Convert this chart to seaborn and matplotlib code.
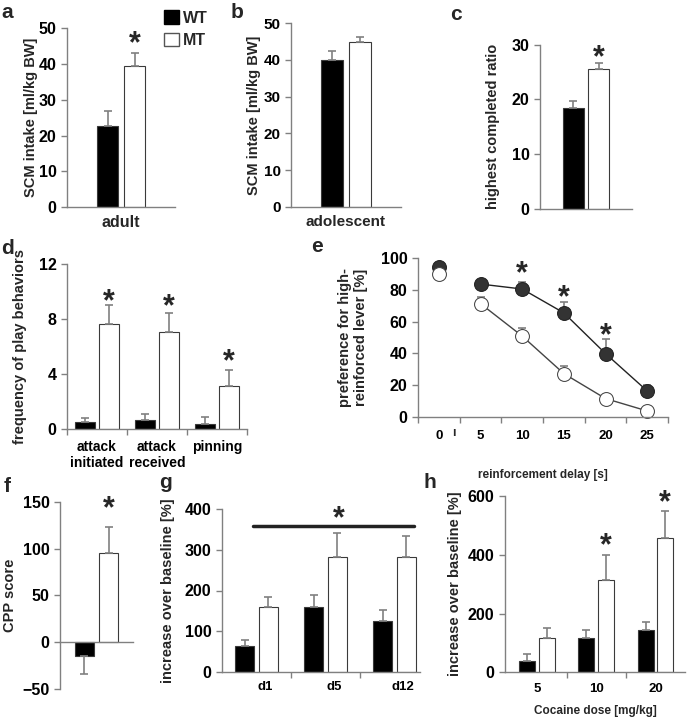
import matplotlib
matplotlib.use('Agg')
import numpy as np
import pandas as pd
import matplotlib.pyplot as plt
import seaborn as sns
from matplotlib.patches import Patch

# a / b / c: single group bars
adult_wt, adult_mt = [22.8], [39.5]
adult_wt_err, adult_mt_err = [4.2], [3.6]
adol_wt, adol_mt = [40.1], [44.9]
adol_wt_err, adol_mt_err = [2.3], [1.4]
ratio_wt, ratio_mt = [18.4], [25.5]
ratio_wt_err, ratio_mt_err = [1.3], [1.2]

# d: play behaviors
play_labels = ['attack\ninitiated', 'attack\nreceived', 'pinning']
play_wt = [0.53, 0.66, 0.36]
play_wt_err = [0.30, 0.40, 0.50]
play_mt = [7.63, 7.09, 3.13]
play_mt_err = [1.37, 1.34, 1.17]

# e: delay discounting
delay = [0, 5, 10, 15, 20, 25]
delay_wt = [94.3, 83.6, 80.5, 65.5, 39.9, 16.4]
delay_wt_err = [0.0, 0.0, 4.4, 6.8, 9.0, 4.0]
delay_mt = [90.2, 71.3, 50.9, 27.3, 11.6, 3.8]
delay_mt_err = [0.0, 4.0, 5.0, 5.0, 0.0, 0.0]

# f: CPP
cpp_wt, cpp_mt = [-14.5], [95.0]
cpp_wt_err, cpp_mt_err = [20.0], [28.0]

# g: sensitization days
days = ['d1', 'd5', 'd12']
days_wt = [63, 160, 126]
days_wt_err = [14, 29, 25]
days_mt = [158.6, 281.7, 281.7]
days_mt_err = [25, 60, 53]

# h: cocaine dose
dose = ['5', '10', '20']
dose_wt = [37.4, 117.8, 144]
dose_wt_err = [24, 25, 26]
dose_mt = [116.7, 314, 456]
dose_mt_err = [34, 86, 94]

sns.set_style('ticks')
plt.rcParams['font.family'] = ['Liberation Sans', 'DejaVu Sans']
plt.rcParams['font.weight'] = 'bold'
plt.rcParams['axes.labelweight'] = 'bold'
plt.rcParams['axes.edgecolor'] = '#808080'
plt.rcParams['xtick.color'] = '#808080'
plt.rcParams['ytick.color'] = '#808080'
plt.rcParams['xtick.labelcolor'] = 'black'
plt.rcParams['ytick.labelcolor'] = 'black'

W, H = 687, 719
fig = plt.figure(figsize=(W / 100, H / 100), dpi=100)


def make_ax(l, r, t, b):
    return fig.add_axes([l / W, 1 - b / H, (r - l) / W, (b - t) / H])


def style(ax, ylabel, dist, fs=10.5, tick_fs=11.5):
    sns.despine(ax=ax)
    for s in ['left', 'bottom']:
        ax.spines[s].set_linewidth(1.0)
    ax.tick_params(axis='y', direction='out', length=4, width=1, labelsize=tick_fs)
    ax.set_ylabel(ylabel, fontsize=fs)
    w = ax.get_position().width * W
    ax.yaxis.set_label_coords(-dist / w, 0.5)


def draw_bars(ax, groups, wt, mt, wt_err, mt_err, width, gap):
    n = len(groups)
    df = pd.DataFrame({'group': list(groups) * 2,
                       'genotype': ['WT'] * n + ['MT'] * n,
                       'value': list(wt) + list(mt)})
    sns.barplot(data=df, x='group', y='value', hue='genotype', order=groups,
                hue_order=['WT', 'MT'], palette={'WT': 'black', 'MT': 'white'},
                width=width, gap=gap, edgecolor='#3a3a3a', linewidth=0.8,
                errorbar=None, legend=False, ax=ax)
    mt_x = []
    for k, (cont, errs) in enumerate(zip(ax.containers, [wt_err, mt_err])):
        for bar, e in zip(cont, errs):
            x = bar.get_x() + bar.get_width() / 2
            top = bar.get_y() + bar.get_height()
            yerr = [[0], [e]] if top >= 0 else [[e], [0]]
            ax.errorbar(x, top, yerr=yerr, fmt='none', ecolor='#808080',
                        elinewidth=1.2, capsize=3, capthick=1.2)
            if k == 1:
                mt_x.append(x)
    ax.set_xlabel('')
    return mt_x


def star(ax, x, y):
    ax.annotate('*', (x, y), xytext=(0, -4.5), textcoords='offset points',
                ha='center', va='center', fontsize=22, fontweight='bold',
                annotation_clip=False)


# ---- a
ax = make_ax(67, 175, 28.3, 207)
mx = draw_bars(ax, ['adult'], adult_wt, adult_mt, adult_wt_err, adult_mt_err, 0.5, 0.2)
ax.set_xlim(-0.5, 0.5)
ax.set_ylim(0, 50)
ax.set_yticks([0, 10, 20, 30, 40, 50])
ax.set_xticks([])
ax.set_xlabel('adult', fontsize=11.5, labelpad=6)
style(ax, 'SCM intake [ml/kg BW]', 29)
star(ax, mx[0], 47.3)

# ---- b
ax = make_ax(291, 401, 23.3, 206.7)
draw_bars(ax, ['adolescent'], adol_wt, adol_mt, adol_wt_err, adol_mt_err, 0.5, 0.2)
ax.set_xlim(-0.5, 0.5)
ax.set_ylim(0, 50)
ax.set_yticks([0, 10, 20, 30, 40, 50])
ax.set_xticks([])
ax.set_xlabel('adolescent', fontsize=11, labelpad=6)
style(ax, 'SCM intake [ml/kg BW]', 30, tick_fs=11)

# ---- c
ax = make_ax(540, 632, 44.7, 208.7)
mx = draw_bars(ax, ['ratio'], ratio_wt, ratio_mt, ratio_wt_err, ratio_mt_err, 0.56, 0.18)
ax.set_xlim(-0.5, 0.5)
ax.set_ylim(0, 30)
ax.set_yticks([0, 10, 20, 30])
ax.set_xticks([])
style(ax, 'highest completed ratio', 40)
star(ax, mx[0], 28.6)

# ---- d
ax = make_ax(67, 247, 264.3, 429)
mx = draw_bars(ax, play_labels, play_wt, play_mt, play_wt_err, play_mt_err, 0.8, 0.17)
ax.set_xlim(-0.5, 2.5)
ax.set_ylim(0, 12)
ax.set_yticks([0, 4, 8, 12])
ax.set_xticks(range(3), play_labels)
ax.set_xticks([-0.5, 0.5, 1.5, 2.5], minor=True)
ax.tick_params(axis='x', which='major', length=0, labelsize=10, pad=8)
ax.tick_params(axis='x', which='minor', length=4, width=1, direction='out')
style(ax, 'frequency of play behaviors', 40)
for x, y in zip(mx, [9.7, 9.33, 5.3]):
    star(ax, x, y)

# ---- e
ax = make_ax(418, 668, 258, 417)
pos = np.arange(len(delay))
sns.lineplot(x=pos[1:], y=delay_wt[1:], color='#222222', lw=1, marker='o', ms=10,
             markerfacecolor='#333333', markeredgecolor='#222222', ax=ax, clip_on=False)
sns.lineplot(x=pos[:1], y=delay_wt[:1], color='#222222', lw=1, marker='o', ms=10,
             markerfacecolor='#333333', markeredgecolor='#222222', ax=ax, clip_on=False)
ax.errorbar(pos, delay_wt, yerr=[np.zeros(6), delay_wt_err], fmt='none',
            ecolor='#808080', elinewidth=1.2, capsize=3, capthick=1.2, zorder=1)
ax.errorbar(pos, delay_mt, yerr=[np.zeros(6), delay_mt_err], fmt='none',
            ecolor='#808080', elinewidth=1.2, capsize=3, capthick=1.2, zorder=1)
sns.lineplot(x=pos[1:], y=delay_mt[1:], color='#444444', lw=1, marker='o', ms=10,
             markerfacecolor='white', markeredgecolor='#444444', ax=ax, clip_on=False)
sns.lineplot(x=pos[:1], y=delay_mt[:1], color='#444444', lw=1, marker='o', ms=10,
             markerfacecolor='white', markeredgecolor='#444444', ax=ax, clip_on=False)
ax.set_xlim(-0.5, 5.5)
ax.set_ylim(0, 100)
ax.set_yticks([0, 20, 40, 60, 80, 100])
ax.set_xticks(pos, [str(d) for d in delay])
ax.set_xticks(np.arange(-0.5, 6, 1), minor=True)
ax.tick_params(axis='x', which='major', length=0, labelsize=9.5, pad=9)
ax.tick_params(axis='x', which='minor', length=4, width=1, direction='out')
ax.set_xlabel('reinforcement delay [s]', fontsize=8.5)
ax.xaxis.set_label_coords(0.5, -(469 - 417) / 159)
ax.text(0.35, -10, '\u0131', ha='center', va='center', fontsize=9, fontweight='bold')
style(ax, 'preference for high-\nreinforced lever [%]', 50)
for i, y in zip([2, 3, 4], [93.5, 78.4, 54.5]):
    star(ax, pos[i], y)

# ---- f
ax = make_ax(60, 133, 502, 688.7)
mx = draw_bars(ax, ['cpp'], cpp_wt, cpp_mt, cpp_wt_err, cpp_mt_err, 0.66, 0.2)
ax.set_xlim(-0.5, 0.5)
ax.set_ylim(-50, 150)
ax.set_yticks([-50, 0, 50, 100, 150])
ax.set_xticks([])
ax.spines['bottom'].set_position(('data', 0))
style(ax, 'CPP score', 43)
star(ax, mx[0], 149)

# ---- g
ax = make_ax(222, 420, 509.3, 671.7)
draw_bars(ax, days, days_wt, days_mt, days_wt_err, days_mt_err, 0.68, 0.2)
ax.set_xlim(-0.5, 2.37)
ax.set_ylim(0, 400)
ax.set_yticks([0, 100, 200, 300, 400])
ax.set_xticks(np.arange(3) + 0.12, days)
ax.set_xticks([0.5, 1.5], minor=True)
ax.tick_params(axis='x', which='major', length=0, labelsize=9.5, pad=7)
ax.tick_params(axis='x', which='minor', length=4, width=1, direction='out')
ax.plot([-0.05, 2.29], [358.6, 358.6], color='#222222', lw=2.5)
star(ax, 1.19, 390)
style(ax, 'increase over baseline [%]', 47)

# ---- h
ax = make_ax(505, 685, 496, 672.3)
mx = draw_bars(ax, dose, dose_wt, dose_mt, dose_wt_err, dose_mt_err, 0.66, 0.18)
ax.set_xlim(-0.54, 2.5)
ax.set_ylim(0, 600)
ax.set_yticks([0, 200, 400, 600])
ax.set_xticks(range(3), dose)
ax.set_xticks([0.5, 1.5], minor=True)
ax.tick_params(axis='x', which='major', length=0, labelsize=9.5, pad=8)
ax.tick_params(axis='x', which='minor', length=4, width=1, direction='out')
ax.set_xlabel('Cocaine dose [mg/kg]', fontsize=8.5, labelpad=7)
style(ax, 'increase over baseline [%]', 43)
for x, y in zip(mx[1:], [450, 595]):
    star(ax, x, y)

# panel letters
for letter, (px, py) in {'a': (7, 12), 'b': (237, 12), 'c': (456, 14), 'd': (7, 248),
                         'e': (317, 246), 'f': (7, 486), 'g': (166, 482), 'h': (430, 482)}.items():
    fig.text(px / W, 1 - py / H, letter, fontsize=15, fontweight='bold', ha='center', va='center')

fig.legend(handles=[Patch(facecolor='black', edgecolor='black'),
                    Patch(facecolor='white', edgecolor='#555555')],
           labels=['WT', 'MT'], loc='upper left', bbox_to_anchor=(158 / W, 1 - 4 / H),
           frameon=False, prop={'size': 11.5, 'weight': 'bold'}, handlelength=0.9,
           handleheight=0.9, handletextpad=0.25, labelspacing=0.45, borderaxespad=0)

fig.savefig('out.png', dpi=100)
